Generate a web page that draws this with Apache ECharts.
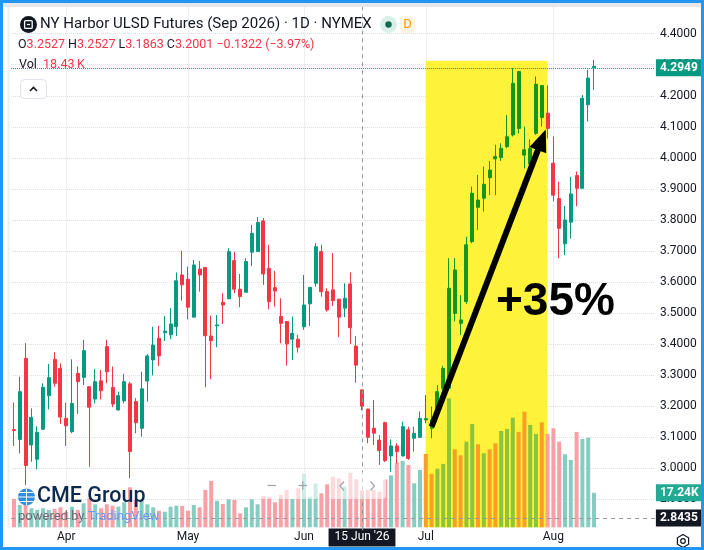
<!DOCTYPE html>
<html>
<head>
<meta charset="utf-8">
<script src="https://cdn.jsdelivr.net/npm/echarts@6/dist/echarts.min.js"></script>
<style>
html, body { margin: 0; padding: 0; background: #fff; }
#chart { width: 704px; height: 550px; }
</style>
</head>
<body>
<div id="chart"></div>
<script>
// trading days shown on the chart (NYMEX, daily bars)
var dates = [
    '2026-03-19','2026-03-20','2026-03-23','2026-03-24','2026-03-25','2026-03-26','2026-03-27','2026-03-30','2026-03-31',
    '2026-04-01','2026-04-02','2026-04-06','2026-04-07','2026-04-08','2026-04-09','2026-04-10','2026-04-13','2026-04-14',
    '2026-04-15','2026-04-16','2026-04-17','2026-04-20','2026-04-21','2026-04-22','2026-04-23','2026-04-24','2026-04-27',
    '2026-04-28','2026-04-29','2026-04-30',
    '2026-05-01','2026-05-04','2026-05-05','2026-05-06','2026-05-07','2026-05-08','2026-05-11','2026-05-12','2026-05-13',
    '2026-05-14','2026-05-15','2026-05-18','2026-05-19','2026-05-20','2026-05-21','2026-05-22','2026-05-26','2026-05-27',
    '2026-05-28','2026-05-29',
    '2026-06-01','2026-06-02','2026-06-03','2026-06-04','2026-06-05','2026-06-08','2026-06-09','2026-06-10','2026-06-11',
    '2026-06-12','2026-06-15','2026-06-16','2026-06-17','2026-06-18','2026-06-22','2026-06-23','2026-06-24','2026-06-25',
    '2026-06-26','2026-06-29','2026-06-30',
    '2026-07-01','2026-07-02','2026-07-06','2026-07-07','2026-07-08','2026-07-09','2026-07-10','2026-07-13','2026-07-14',
    '2026-07-15','2026-07-16','2026-07-17','2026-07-20','2026-07-21','2026-07-22','2026-07-23','2026-07-24','2026-07-27',
    '2026-07-28','2026-07-29','2026-07-30','2026-07-31',
    '2026-08-03','2026-08-04','2026-08-05','2026-08-06','2026-08-07','2026-08-10','2026-08-11','2026-08-12'
];

var openPx = [
    3.125,3.093,3.354,3.075,3.029,3.126,3.234,3.351,3.322,3.161,
    3.118,3.306,3.293,3.263,3.223,3.282,3.392,3.260,3.188,3.217,
    3.272,3.215,3.129,3.281,3.349,3.419,3.437,3.430,3.456,3.623,
    3.609,3.487,3.642,3.647,3.426,3.459,3.535,3.546,3.669,3.577,
    3.567,3.696,3.698,3.797,3.644,3.582,3.489,3.473,3.416,3.416,
    3.456,3.530,3.596,3.698,3.569,3.575,3.545,3.516,3.594,3.394,
    3.2527,3.191,3.129,3.091,3.147,3.040,3.072,3.040,3.124,3.097,
    3.100,3.160,3.156,3.183,3.258,3.258,3.639,3.478,3.537,3.730,
    3.864,3.870,3.961,4.004,4.001,4.036,4.074,4.278,4.026,3.980,
    4.079,4.233,4.144,3.983,3.869,3.723,3.793,3.943,3.902,4.171,
    4.290
];
var highPx = [
    3.212,3.295,3.403,3.193,3.136,3.274,3.336,3.374,3.338,3.212,
    3.351,3.328,3.414,3.263,3.319,3.317,3.414,3.328,3.247,3.304,
    3.279,3.226,3.311,3.368,3.456,3.459,3.491,3.516,3.631,3.701,
    3.650,3.671,3.668,3.647,3.492,3.494,3.564,3.709,3.698,3.626,
    3.677,3.784,3.809,3.806,3.720,3.636,3.548,3.473,3.489,3.430,
    3.623,3.583,3.725,3.720,3.580,3.693,3.545,3.596,3.631,3.426,
    3.2527,3.191,3.220,3.107,3.150,3.093,3.081,3.150,3.134,3.134,
    3.183,3.236,3.199,3.268,3.330,3.677,3.677,3.558,3.746,3.907,
    3.945,3.972,3.990,4.042,4.047,4.138,4.289,4.278,4.101,4.060,
    4.262,4.233,4.233,4.069,3.923,3.845,3.938,3.956,4.203,4.284,
    4.316
];
var lowPx = [
    3.072,3.048,2.946,3.021,2.997,3.124,3.190,3.263,3.143,3.072,
    3.113,3.175,3.268,3.005,3.209,3.222,3.274,3.197,3.186,3.209,
    2.968,3.113,3.102,3.215,3.299,3.330,3.410,3.416,3.426,3.540,
    3.480,3.487,3.569,3.261,3.287,3.390,3.465,3.546,3.564,3.519,
    3.567,3.652,3.698,3.591,3.512,3.521,3.403,3.331,3.349,3.373,
    3.446,3.459,3.585,3.553,3.505,3.523,3.422,3.487,3.401,3.276,
    3.1863,3.081,3.075,3.011,3.020,2.989,3.016,3.038,3.027,3.054,
    3.097,3.145,3.097,3.172,3.250,3.250,3.473,3.430,3.530,3.725,
    3.768,3.827,3.880,3.880,3.990,4.031,4.069,4.079,3.966,3.945,
    4.074,4.101,4.063,3.860,3.677,3.687,3.740,3.844,3.902,4.117,
    4.219
];
var closePx = [
    3.122,3.247,3.009,3.164,3.116,3.261,3.292,3.274,3.165,3.137,
    3.209,3.279,3.379,3.197,3.279,3.250,3.311,3.207,3.234,3.279,
    3.054,3.147,3.256,3.362,3.397,3.362,3.442,3.465,3.604,3.591,
    3.519,3.655,3.623,3.427,3.411,3.462,3.526,3.698,3.577,3.553,
    3.666,3.757,3.792,3.626,3.537,3.571,3.467,3.401,3.435,3.390,
    3.526,3.583,3.714,3.569,3.510,3.540,3.487,3.548,3.453,3.3323,
    3.2001,3.100,3.113,3.057,3.025,3.072,3.054,3.134,3.032,3.113,
    3.161,3.156,3.129,3.247,3.322,3.580,3.499,3.467,3.720,3.886,
    3.841,3.915,3.936,3.997,4.031,4.068,4.240,4.095,4.009,4.030,
    4.237,4.130,4.095,3.880,3.773,3.800,3.884,3.902,4.192,4.257,
    4.2949
];
// volume in thousands of contracts
var volumeK = [
    14.2,11.2,16.0,9.5,8.7,9.5,8.7,9.2,10.0,7.8,
    10.3,8.7,12.0,14.5,11.5,9.5,11.5,10.8,10.3,12.5,
    20.0,13.7,13.2,11.5,10.0,8.3,7.8,10.3,10.8,10.7,
    8.3,11.2,10.0,18.7,23.2,13.3,11.7,14.0,13.7,7.0,
    10.0,14.0,11.5,15.7,15.3,12.5,16.2,18.7,14.2,19.5,
    26.8,15.3,22.0,17.0,21.5,25.3,24.5,20.3,27.3,24.0,
    18.43,18.7,18.7,17.8,24.0,26.0,32.3,33.2,31.2,22.0,
    28.7,36.7,26.7,29.3,31.7,64.5,39.0,36.0,42.8,51.7,
    41.5,37.0,39.0,42.0,48.2,49.2,54.8,47.7,57.8,51.2,
    46.7,52.5,46.7,49.5,42.8,36.5,33.7,47.7,44.2,44.8,
    17.24
];

// time axis labels
var tickLabels = {
    '2026-04-01': 'Apr',
    '2026-05-01': 'May',
    '2026-06-01': 'Jun',
    '2026-06-15': '15 Jun \'26',
    '2026-07-01': 'Jul',
    '2026-08-03': 'Aug'
};
var monthLines = ['2026-04-01', '2026-05-01', '2026-06-01', '2026-07-01', '2026-08-03'];

var crossDate = '2026-06-15';   // crosshair bar
var crossPrice = 2.8435;
var lastPrice = 4.2949;
var hlFrom = '2026-07-01', hlTo = '2026-07-31', hlTop = 4.313, hlBottom = 2.81;
var arrowFrom = ['2026-07-02', 3.134], arrowTo = ['2026-07-30', 4.058];


var UP = '#089981', DOWN = '#f23645';
var VOL_UP = '#86cdc1', VOL_DOWN = '#f8a0a6';
var HL = '#fff23a';
var HL_UP = '#12961e', HL_DOWN = '#f2330e';
var HL_VOL_UP = '#8cc43c', HL_VOL_DOWN = '#f6a02a';
var FONT = 'Roboto, "Noto Sans", sans-serif';
var TXT = '#131722';

// empty bars on the right, like the chart's right offset
var cats = dates.slice();
for (var k = 0; k < 10; k++) {
    cats.push('pad' + k);
}

function inHighlight(i) {
    return dates[i] >= hlFrom && dates[i] < hlTo;
}

var candleData = [];
for (var i = 0; i < dates.length; i++) {
    var item = {value: [openPx[i], closePx[i], lowPx[i], highPx[i]]};
    if (inHighlight(i)) {
        item.itemStyle = {color: HL_UP, color0: HL_DOWN, borderColor: HL_UP, borderColor0: HL_DOWN};
    }
    candleData.push(item);
}

/* header values from crosshair bar */
var ci = dates.indexOf(crossDate);
var chg = closePx[ci] - closePx[ci - 1];
var pct = chg / closePx[ci - 1] * 100;
function signed(v, d) {
    return (v < 0 ? '\u2212' : '+') + Math.abs(v).toFixed(d);
}
var ohlcText = '{k|O}{v|' + openPx[ci].toFixed(4) + '} {k|H}{v|' + highPx[ci].toFixed(4) +
    '} {k|L}{v|' + lowPx[ci].toFixed(4) + '} {k|C}{v|' + closePx[ci].toFixed(4) +
    '} {v|' + signed(chg, 4) + ' (' + signed(pct, 2) + '%)}';
var volText = '{k|Vol}  {v|' + volumeK[ci].toFixed(2) + '\u2009K}';

var chart = echarts.init(document.getElementById('chart'));

var gridL = 11.1, gridR = 49.1;
var HDR = '12.5px ' + FONT;

var graphics = [
    // frame
    {type: 'rect', z: 200, silent: true, shape: {x: 1.5, y: 1.5, width: 701, height: 547},
        style: {fill: 'none', stroke: '#2196f3', lineWidth: 3}},
    {type: 'rect', z: 199, silent: true, shape: {x: 3, y: 3, width: 698, height: 4}, style: {fill: '#e6e7ea'}},
    {type: 'line', z: 199, silent: true, shape: {x1: 8.5, y1: 7, x2: 8.5, y2: 528}, style: {stroke: '#eeeff2', lineWidth: 2}},

    // symbol header
    {type: 'circle', z: 100, shape: {cx: 28.5, cy: 24.5, r: 8.5}, style: {fill: TXT}},
    {type: 'rect', z: 101, shape: {x: 24.6, y: 20.6, width: 7.6, height: 7.8, r: 1}, style: {fill: 'none', stroke: '#fff', lineWidth: 1.3}},
    {type: 'line', z: 101, shape: {x1: 27, y1: 24.5, x2: 30, y2: 24.5}, style: {stroke: '#fff', lineWidth: 1.2}},
    {type: 'text', z: 100, x: 40, y: 24.5, style: {text: 'NY Harbor ULSD Futures (Sep 2026) \u00b7 1D \u00b7 NYMEX',
        fill: TXT, font: '15px ' + FONT, verticalAlign: 'middle'}},
    {type: 'circle', z: 100, shape: {cx: 388.5, cy: 24.5, r: 8.5}, style: {fill: '#d9f0e9'}},
    {type: 'circle', z: 101, shape: {cx: 388.5, cy: 24.5, r: 3.2}, style: {fill: '#0f6b50'}},
    {type: 'rect', z: 100, shape: {x: 400, y: 16, width: 15, height: 17, r: 4}, style: {fill: '#fff3e3'}},
    {type: 'text', z: 101, x: 407.5, y: 24.5, style: {text: 'D', fill: '#ff9800', font: '13px ' + FONT,
        align: 'center', verticalAlign: 'middle'}},
    {type: 'text', z: 100, x: 18, y: 45, style: {text: ohlcText, font: HDR, verticalAlign: 'middle',
        rich: {k: {fill: TXT, font: HDR}, v: {fill: DOWN, font: HDR}}}},
    {type: 'text', z: 100, x: 19, y: 65, style: {text: volText, font: HDR, verticalAlign: 'middle',
        rich: {k: {fill: TXT, font: HDR}, v: {fill: DOWN, font: HDR}}}},
    {type: 'rect', z: 100, shape: {x: 20.5, y: 79.5, width: 26, height: 19, r: 4},
        style: {fill: '#fff', stroke: '#e0e3eb', lineWidth: 1}},
    {type: 'polyline', z: 101, shape: {points: [[30, 91], [33.5, 87.5], [37, 91]]},
        style: {fill: 'none', stroke: TXT, lineWidth: 1.6}},

    // big annotation
    {type: 'text', z: 120, x: 496, y: 302, style: {text: '+35%', fill: '#000',
        font: 'bold 46px "Liberation Sans", Arial, sans-serif', verticalAlign: 'middle'}},

    // CME / TradingView logo
    {type: 'circle', z: 100, shape: {cx: 26.5, cy: 497, r: 8.5}, style: {fill: '#2f8ee0'}},
    {type: 'line', z: 101, shape: {x1: 18, y1: 497, x2: 35, y2: 497}, style: {stroke: '#fff', lineWidth: 1}},
    {type: 'line', z: 101, shape: {x1: 19.5, y1: 492.5, x2: 33.5, y2: 492.5}, style: {stroke: '#fff', lineWidth: 1}},
    {type: 'line', z: 101, shape: {x1: 19.5, y1: 501.5, x2: 33.5, y2: 501.5}, style: {stroke: '#fff', lineWidth: 1}},
    {type: 'line', z: 101, shape: {x1: 26.5, y1: 488.5, x2: 26.5, y2: 505.5}, style: {stroke: '#fff', lineWidth: 1}},
    {type: 'text', z: 100, x: 37, y: 497, style: {text: 'CME Group', fill: '#0c2a4d',
        font: '500 21.5px ' + FONT, verticalAlign: 'middle'}},
    {type: 'text', z: 100, x: 18, y: 517, style: {text: '{p|powered by} {t|TradingView}', font: '13px ' + FONT,
        verticalAlign: 'middle',
        rich: {p: {fill: '#6a6d78', font: '13px ' + FONT}, t: {fill: '#6f97f2', font: '13px ' + FONT}}}},

    // zoom / scroll controls
    {type: 'rect', z: 100, shape: {x: 259, y: 472, width: 60, height: 27, r: 4}, style: {fill: 'rgba(255,255,255,0.6)'}},
    {type: 'line', z: 101, shape: {x1: 267.5, y1: 485.5, x2: 276, y2: 485.5}, style: {stroke: '#a3a6af', lineWidth: 1.3}},
    {type: 'line', z: 101, shape: {x1: 298.5, y1: 485.5, x2: 307, y2: 485.5}, style: {stroke: '#a3a6af', lineWidth: 1.3}},
    {type: 'line', z: 101, shape: {x1: 302.7, y1: 481.3, x2: 302.7, y2: 489.7}, style: {stroke: '#a3a6af', lineWidth: 1.3}},
    {type: 'rect', z: 100, shape: {x: 329, y: 472, width: 57, height: 27, r: 4}, style: {fill: 'rgba(255,255,255,0.6)'}},
    {type: 'polyline', z: 101, shape: {points: [[344, 481.5], [340, 486], [344, 490.5]]}, style: {fill: 'none', stroke: '#a3a6af', lineWidth: 1.3}},
    {type: 'polyline', z: 101, shape: {points: [[370.5, 481.5], [374.5, 486], [370.5, 490.5]]}, style: {fill: 'none', stroke: '#a3a6af', lineWidth: 1.3}},

    // settings gear
    {type: 'polygon', z: 100, shape: {points: [[683, 534.5], [688.6, 537.8], [688.6, 544.2], [683, 547.5], [677.4, 544.2], [677.4, 537.8]]},
        style: {fill: 'none', stroke: TXT, lineWidth: 1.2}},
    {type: 'circle', z: 100, shape: {cx: 683, cy: 541, r: 2.3}, style: {fill: 'none', stroke: TXT, lineWidth: 1.2}}
];

function boxLabel(bg, text) {
    return {
        show: true, position: 'end', distance: 1,
        formatter: text, color: '#fff', backgroundColor: bg,
        padding: [3, 4, 2, 4], fontSize: 12, fontWeight: 'bold', fontFamily: FONT
    };
}

var option = {
    animation: false,
    backgroundColor: '#fff',
    textStyle: {fontFamily: FONT},
    grid: [
        {left: gridL, right: gridR, top: 2.66, bottom: 19.6, outerBoundsMode: 'none', containLabel: false},
        {left: gridL, right: gridR, top: 387.3, bottom: 22.7, outerBoundsMode: 'none', containLabel: false}
    ],
    xAxis: [
        {
            type: 'category', gridIndex: 0, data: cats, boundaryGap: true,
            axisLine: {show: false}, axisTick: {show: false}, splitLine: {show: false},
            axisLabel: {
                margin: 0,
                interval: function (index, value) {
                    return tickLabels[value] !== undefined;
                },
                formatter: function (value) {
                    return value === crossDate ? '{hl|' + tickLabels[value] + '}' : '{m|' + tickLabels[value] + '}';
                },
                rich: {
                    m: {color: TXT, fontSize: 12, fontFamily: FONT, lineHeight: 14, padding: [3, 6]},
                    hl: {color: '#fff', backgroundColor: TXT, fontSize: 12, fontFamily: FONT, lineHeight: 14, padding: [3, 6]}
                }
            }
        },
        {type: 'category', gridIndex: 1, data: cats, show: false}
    ],
    yAxis: [
        {
            type: 'value', gridIndex: 0, position: 'right',
            min: 2.8, max: 4.5, interval: 0.1, scale: true,
            axisLine: {show: false}, axisTick: {show: false},
            splitLine: {show: true, showMinLine: false, showMaxLine: false,
                lineStyle: {color: '#d9dce3', type: 'dotted', width: 1}},
            axisLabel: {
                showMinLabel: false, showMaxLabel: false, margin: 5,
                color: TXT, fontSize: 12, fontFamily: FONT,
                formatter: function (v) { return v.toFixed(4); }
            }
        },
        {type: 'value', gridIndex: 1, min: 0, max: 70, show: false}
    ],
    series: [
        {
            // vertical month gridlines, kept under everything else
            type: 'line', xAxisIndex: 0, yAxisIndex: 0, data: [], silent: true,
            markLine: {
                z: 0, silent: true, symbol: ['none', 'none'], label: {show: false},
                lineStyle: {color: '#d9dce3', type: 'dotted', width: 1},
                data: monthLines.map(function (d) { return {xAxis: d}; })
            }
        },
        {
            name: 'Volume', type: 'bar', xAxisIndex: 1, yAxisIndex: 1, z: 2,
            data: volumeK, barWidth: 4, silent: true,
            itemStyle: {
                color: function (p) {
                    var up = closePx[p.dataIndex] >= openPx[p.dataIndex];
                    if (inHighlight(p.dataIndex)) {
                        return up ? HL_VOL_UP : HL_VOL_DOWN;
                    }
                    return up ? VOL_UP : VOL_DOWN;
                }
            }
        },
        {
            name: 'ULSD', type: 'candlestick', xAxisIndex: 0, yAxisIndex: 0, z: 3,
            data: candleData, barWidth: 3.4, silent: true,
            itemStyle: {color: UP, color0: DOWN, borderColor: UP, borderColor0: DOWN, borderWidth: 1},
            markArea: {
                silent: true,
                itemStyle: {color: HL, opacity: 1},
                data: [[{xAxis: hlFrom, yAxis: hlTop}, {xAxis: hlTo, yAxis: hlBottom}]]
            },
            markLine: {
                silent: true, symbol: ['none', 'none'], label: {show: false},
                data: [
                    {yAxis: lastPrice, lineStyle: {color: UP, type: 'dotted', width: 1},
                        label: boxLabel(UP, lastPrice.toFixed(4))},
                    {yAxis: crossPrice, lineStyle: {color: '#9598a1', type: [4, 4], width: 1},
                        label: boxLabel(TXT, crossPrice.toFixed(4))},
                    {xAxis: crossDate, lineStyle: {color: '#9598a1', type: [4, 4], width: 1}},
                    [
                        {coord: arrowFrom, symbol: 'none', lineStyle: {color: '#000', width: 6, type: 'solid'}},
                        {coord: arrowTo, symbol: 'triangle', symbolSize: [18, 22]}
                    ]
                ]
            }
        },
        {
            // last volume value tag on the price scale
            type: 'line', xAxisIndex: 1, yAxisIndex: 1, data: [], silent: true,
            markLine: {
                silent: true, symbol: ['none', 'none'],
                lineStyle: {color: 'rgba(0,0,0,0)', width: 0},
                data: [
                    {yAxis: volumeK[volumeK.length - 1],
                        label: boxLabel('#22ab94', volumeK[volumeK.length - 1].toFixed(2) + 'K')}
                ]
            }
        }
    ],
    graphic: graphics
};

chart.setOption(option);
</script>
</body>
</html>
